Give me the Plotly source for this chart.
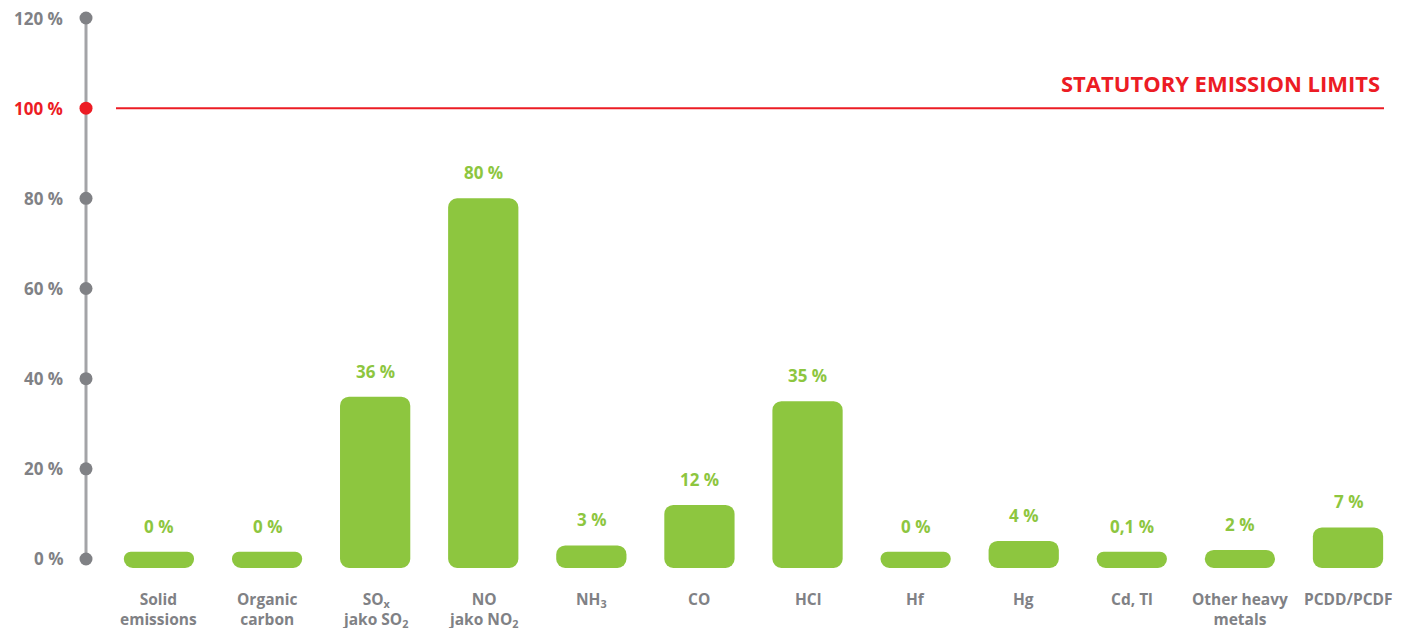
import plotly.graph_objects as go

# ---- data ----
categories = ["Solid<br>emissions", "Organic<br>carbon", "SO<sub>x</sub><br>jako SO<sub>2</sub>",
              "NO<br>jako NO<sub>2</sub>", "NH<sub>3</sub>", "CO", "HCl", "Hf", "Hg", "Cd, Tl",
              "Other heavy<br>metals", "PCDD/PCDF"]
values = [0, 0, 36, 80, 3, 12, 35, 0, 4, 0.1, 2, 7]
value_labels = ["0 %", "0 %", "36 %", "80 %", "3 %", "12 %", "35 %", "0 %", "4 %", "0,1 %", "2 %", "7 %"]
y_ticks = [0, 20, 40, 60, 80, 100, 120]
y_tick_labels = ["0 %", "20 %", "40 %", "60 %", "80 %", "100 %", "120 %"]
limit_value = 100
limit_label = "STATUTORY EMISSION LIMITS"

# ---- style ----
GREEN = "#8dc63f"
RED = "#ec1c24"
GRAY = "#808185"
AXIS_GRAY = "#a3a4a7"
FONT = "Open Sans"
MIN_VIS = 1.6      # minimum visible bar height (styling)
BAR_FOOT = 2.0     # bar foot extends below zero (styling)

xs = list(range(len(categories)))
shown = [max(v, MIN_VIS) for v in values]

fig = go.Figure()
# rounded foot below zero
fig.add_trace(go.Bar(x=xs, y=[-BAR_FOOT] * len(xs), marker=dict(color=GREEN, line=dict(width=0)),
                     hoverinfo="skip", showlegend=False))
# value part
fig.add_trace(go.Bar(x=xs, y=shown, marker=dict(color=GREEN, line=dict(width=0)),
                     hoverinfo="skip", showlegend=False))

# axis dots
fig.add_trace(go.Scatter(x=[0] * len(y_ticks), y=y_ticks, xaxis="x2", mode="markers",
                         marker=dict(size=13, color=[RED if t == limit_value else GRAY for t in y_ticks]),
                         cliponaxis=False, hoverinfo="skip", showlegend=False))

PLOT_W = 1298
shapes = [
    dict(type="line", xref="paper", yref="y", x0=0, x1=0, y0=0, y1=120,
         line=dict(color=AXIS_GRAY, width=3), layer="below"),
    dict(type="line", xref="paper", yref="y", x0=30 / PLOT_W, x1=1, y0=limit_value, y1=limit_value,
         line=dict(color=RED, width=2)),
]

annotations = []
for t, lab in zip(y_ticks, y_tick_labels):
    annotations.append(dict(x=0, xref="paper", y=t, yref="y", text=lab, showarrow=False,
                            xanchor="right", yanchor="middle", xshift=-21,
                            font=dict(family=FONT, size=17, color=RED if t == limit_value else GRAY, weight="bold")))
for x, s, lab in zip(xs, shown, value_labels):
    annotations.append(dict(x=x, y=s, text=lab, showarrow=False, yanchor="bottom", yshift=12,
                            font=dict(family=FONT, size=17, color=GREEN, weight="bold")))
for x, c in zip(xs, categories):
    annotations.append(dict(x=x, y=0, yref="paper", text=c, showarrow=False, yanchor="top", yshift=-18,
                            font=dict(family=FONT, size=15.5, color=GRAY, weight="bold")))
annotations.append(dict(x=1, xref="paper", y=limit_value, yref="y", text=limit_label, showarrow=False,
                        xanchor="right", yanchor="bottom", yshift=8, xshift=-2,
                        font=dict(family=FONT, size=22, color=RED, weight="bold")))

fig.update_layout(
    width=1394, height=620,
    margin=dict(l=78, r=18, t=10, b=60),
    paper_bgcolor="white", plot_bgcolor="white",
    barmode="relative", bargap=0.35, barcornerradius=9,
    xaxis=dict(range=[-0.675, 11.333], showticklabels=False, showgrid=False, zeroline=False, showline=False),
    xaxis2=dict(overlaying="x", range=[0, 1], visible=False),
    yaxis=dict(range=[-2, 120], showticklabels=False, showgrid=False, zeroline=False, showline=False),
    shapes=shapes, annotations=annotations,
)

fig.write_html("out.html")
